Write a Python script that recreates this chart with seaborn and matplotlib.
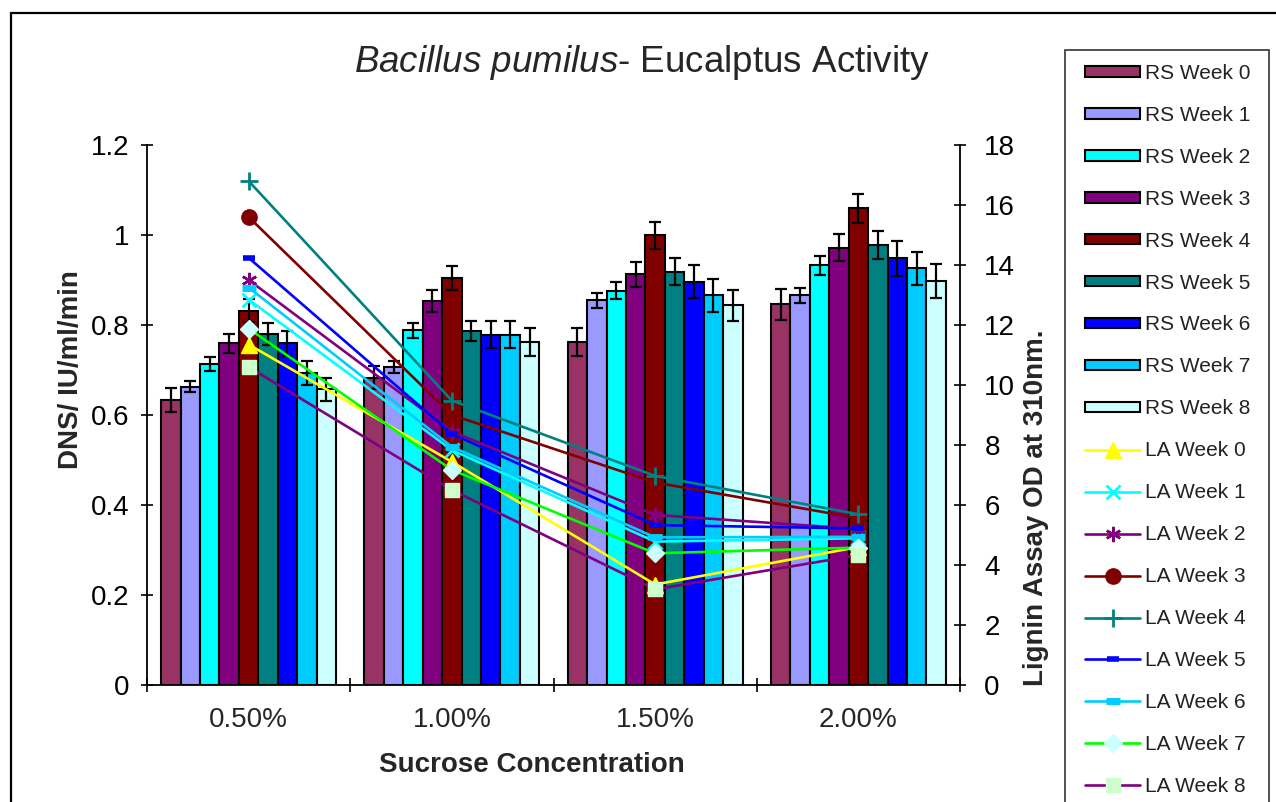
import numpy as np
import pandas as pd
import seaborn as sns
import matplotlib.pyplot as plt
import matplotlib.patches as mpatches
from matplotlib.ticker import FuncFormatter, FixedLocator

# data
concentrations = ['0.50%', '1.00%', '1.50%', '2.00%']
weeks = ['Week 0', 'Week 1', 'Week 2', 'Week 3', 'Week 4', 'Week 5', 'Week 6', 'Week 7', 'Week 8']

# RS (bars, left axis)
rs_week0 = [0.633, 0.683, 0.763, 0.846]
rs_week1 = [0.663, 0.707, 0.855, 0.866]
rs_week2 = [0.713, 0.788, 0.876, 0.933]
rs_week3 = [0.759, 0.853, 0.913, 0.972]
rs_week4 = [0.832, 0.905, 0.999, 1.059]
rs_week5 = [0.780, 0.787, 0.918, 0.978]
rs_week6 = [0.759, 0.778, 0.896, 0.948]
rs_week7 = [0.693, 0.778, 0.866, 0.926]
rs_week8 = [0.657, 0.763, 0.844, 0.898]

# RS error bars
rs_err0 = [0.027, 0.026, 0.031, 0.034]
rs_err1 = [0.012, 0.013, 0.017, 0.017]
rs_err2 = [0.015, 0.017, 0.019, 0.021]
rs_err3 = [0.022, 0.025, 0.028, 0.030]
rs_err4 = [0.026, 0.027, 0.031, 0.033]
rs_err5 = [0.025, 0.022, 0.030, 0.031]
rs_err6 = [0.028, 0.030, 0.037, 0.039]
rs_err7 = [0.027, 0.030, 0.036, 0.037]
rs_err8 = [0.026, 0.031, 0.034, 0.037]

# LA (lines, right axis)
la_week0 = [11.35, 7.44, 3.35, 4.60]
la_week1 = [12.85, 7.83, 4.78, 4.89]
la_week2 = [13.50, 8.45, 5.67, 5.20]
la_week3 = [15.60, 9.00, 6.75, 5.56]
la_week4 = [16.80, 9.48, 6.97, 5.69]
la_week5 = [14.24, 8.37, 5.33, 5.22]
la_week6 = [13.25, 7.94, 4.92, 4.94]
la_week7 = [11.88, 7.17, 4.39, 4.58]
la_week8 = [10.60, 6.50, 3.19, 4.33]

rs_values = [rs_week0, rs_week1, rs_week2, rs_week3, rs_week4, rs_week5, rs_week6, rs_week7, rs_week8]
rs_errors = [rs_err0, rs_err1, rs_err2, rs_err3, rs_err4, rs_err5, rs_err6, rs_err7, rs_err8]
la_values = [la_week0, la_week1, la_week2, la_week3, la_week4, la_week5, la_week6, la_week7, la_week8]

# colours (excel default palette)
rs_colors = ['#993366', '#9999FF', '#00FFFF', '#800080', '#800000', '#008080', '#0000FF', '#00CCFF', '#CCFFFF']
la_line_colors = ['#FFFF00', '#00FFFF', '#800080', '#800000', '#008080', '#0000FF', '#00CCFF', '#00FF00', '#800080']
la_marker_colors = ['#FFFF00', '#00FFFF', '#800080', '#800000', '#008080', '#0000FF', '#00CCFF', '#CCFFFF', '#CCFFCC']
la_markers = ['^', 'x', (6, 2, 0), 'o', '+', '_', '_', 'D', 's']
la_msize = [11, 10, 11, 11, 13, 8, 10, 9, 10]
la_mew = [1, 2, 1.8, 1, 2, 4, 5, 1, 1]

sns.set_theme(style='white')
plt.rcParams['font.family'] = ['Liberation Sans', 'DejaVu Sans']
plt.rcParams['mathtext.fontset'] = 'custom'
plt.rcParams['mathtext.it'] = 'Liberation Sans:italic'
plt.rcParams['mathtext.rm'] = 'Liberation Sans'

rows = []
for w, vals in zip(weeks, rs_values):
    for c, v in zip(concentrations, vals):
        rows.append({'conc': c, 'week': 'RS ' + w, 'value': v})
df = pd.DataFrame(rows)

fig = plt.figure(figsize=(12.76, 8.02), dpi=100)
ax = fig.add_axes([147 / 1276, 117 / 802, 813 / 1276, 540 / 802])

sns.barplot(data=df, x='conc', y='value', hue='week', order=concentrations,
            palette=rs_colors, saturation=1, width=0.86, edgecolor='black',
            linewidth=1.5, errorbar=None, legend=False, ax=ax)

# error bars on top of each bar
for cont, errs in zip(ax.containers, rs_errors):
    xs = [b.get_x() + b.get_width() / 2 for b in cont]
    ys = [b.get_height() for b in cont]
    ax.errorbar(xs, ys, yerr=errs, fmt='none', ecolor='black', elinewidth=1.6,
                capsize=4.5, capthick=1.6, zorder=3)

ax.set_xlim(-0.5, len(concentrations) - 0.5)
ax.set_ylim(0, 1.2)
ax.set_yticks(np.arange(0, 1.21, 0.2))
ax.yaxis.set_major_formatter(FuncFormatter(lambda v, p: '{:g}'.format(round(v, 1))))
ax.tick_params(axis='y', direction='inout', length=9, width=1.2, labelsize=20, pad=8,
               left=True, colors='black')
ax.tick_params(axis='x', which='major', length=0, labelsize=20, pad=16)
ax.xaxis.set_minor_locator(FixedLocator(np.arange(-0.5, len(concentrations), 1.0)))
ax.tick_params(axis='x', which='minor', direction='inout', length=10, width=1.2,
               bottom=True, color='black')
for s in ['top', 'right']:
    ax.spines[s].set_visible(False)
for s in ['left', 'bottom']:
    ax.spines[s].set_color('black')
    ax.spines[s].set_linewidth(1.3)

ax.set_xlabel('Sucrose Concentration', fontsize=20, fontweight='bold')
ax.xaxis.set_label_coords((532 - 147) / 813, -0.125)
ax.set_ylabel('DNS/ IU/ml/min', fontsize=20, fontweight='bold')
ax.yaxis.set_label_coords((84 - 147) / 813, (685 - 370) / 540)

# lignin assay on the secondary axis
ax2 = ax.twinx()
xpos = np.arange(len(concentrations))
for i, w in enumerate(weeks):
    ax2.plot(xpos, la_values[i], color=la_line_colors[i], lw=1.9,
             marker=la_markers[i], ms=la_msize[i], mew=la_mew[i],
             mfc=la_marker_colors[i], mec=la_marker_colors[i], label='LA ' + w)
ax2.set_ylim(0, 18)
ax2.set_yticks(np.arange(0, 19, 2))
ax2.tick_params(axis='y', direction='inout', length=9, width=1.2, labelsize=20, pad=13,
                right=True, colors='black')
for s in ['top', 'left', 'bottom']:
    ax2.spines[s].set_visible(False)
ax2.spines['right'].set_color('black')
ax2.spines['right'].set_linewidth(1.3)
ax2.set_ylabel('Lignin Assay OD at 310nm.', fontsize=20, fontweight='bold')
ax2.yaxis.set_label_coords((1023 - 147) / 813, (685 - 508) / 540)

fig.text(642 / 1276, 1 - 63 / 802, r'$\it{Bacillus\ pumilus}$- Eucalptus Activity',
         ha='center', va='center', fontsize=26.5)

# legend
handles = [mpatches.Patch(facecolor=c, edgecolor='black', linewidth=1.5) for c in rs_colors]
labels = ['RS ' + w for w in weeks]
h2, l2 = ax2.get_legend_handles_labels()
fig.legend(handles + h2, labels + l2, loc='upper left',
           bbox_to_anchor=(1085 / 1276, 1 - 64 / 802), bbox_transform=fig.transFigure,
           frameon=False, borderpad=0, borderaxespad=0, handlelength=2.64,
           handleheight=0.4, handletextpad=0.25, labelspacing=1.1, fontsize=15,
           labelcolor='#222222')
fig.patches.append(mpatches.Rectangle((1065 / 1276, -0.05), (1269 - 1065) / 1276,
                                      1 - 50 / 802 + 0.05, transform=fig.transFigure,
                                      fill=False, edgecolor='#333333', lw=1.2))
# chart border (cut off at right and bottom)
fig.patches.append(mpatches.Rectangle((11 / 1276, -0.05), 1.2, 1 - 13 / 802 + 0.05,
                                      transform=fig.transFigure, fill=False,
                                      edgecolor='black', lw=1.6))

fig.savefig('out.png', dpi=100)
